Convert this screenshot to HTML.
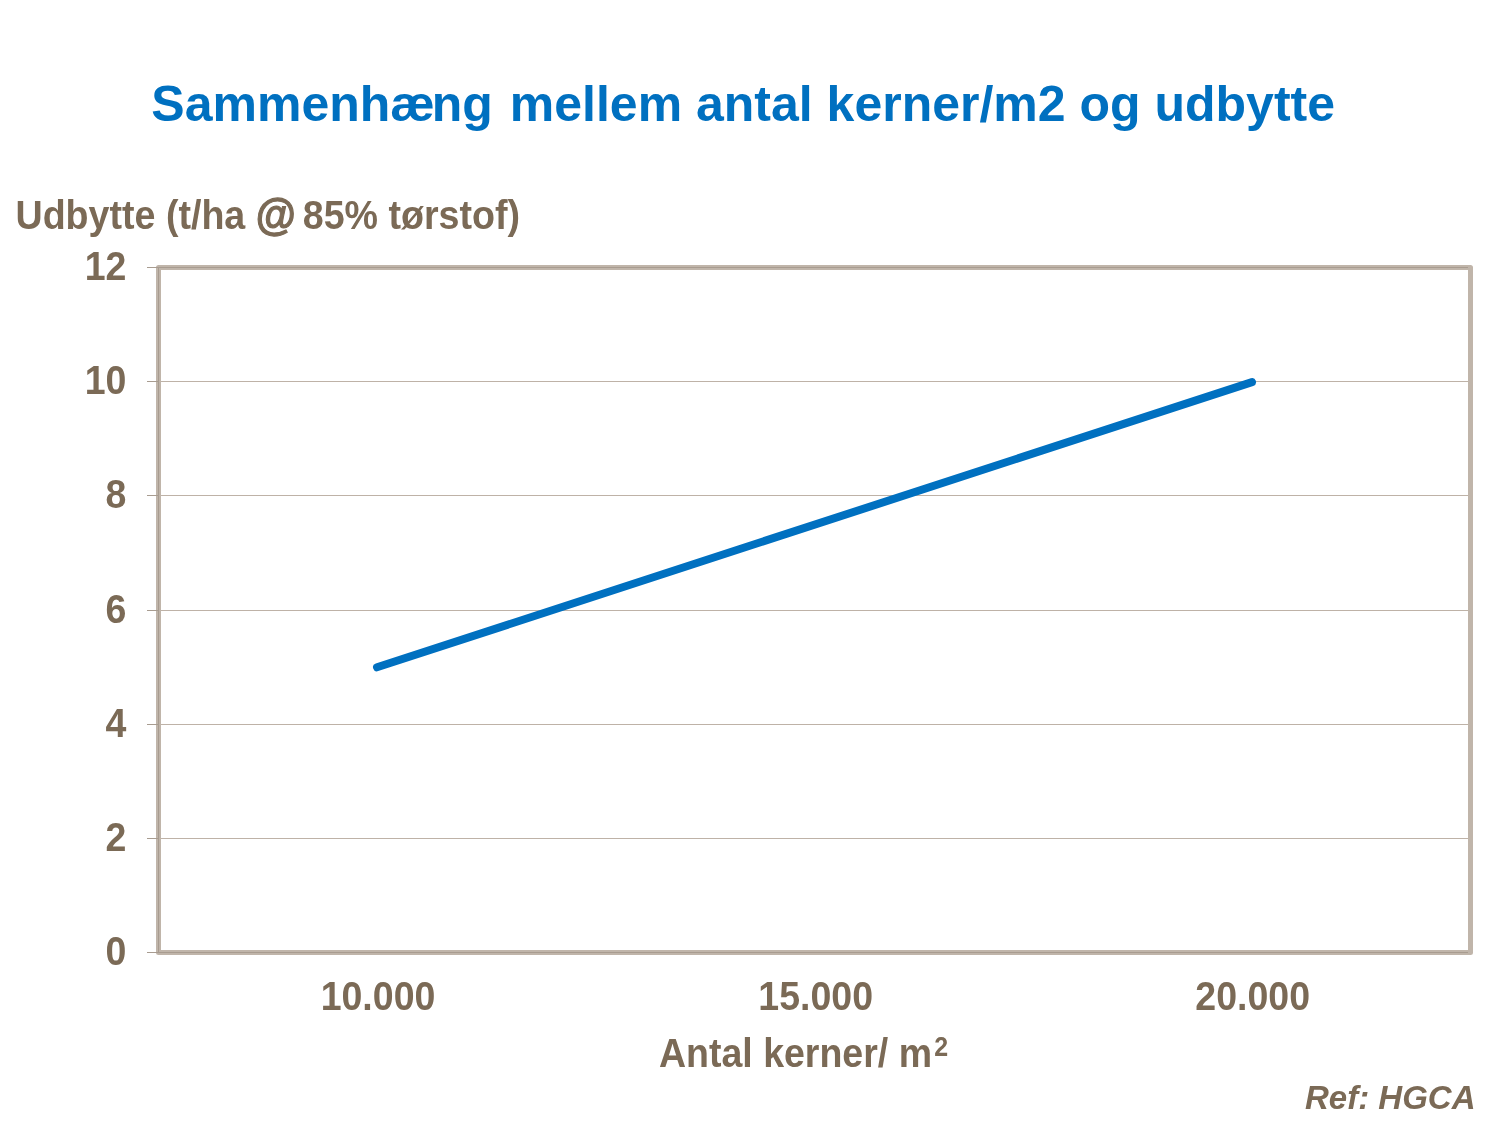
<!DOCTYPE html>
<html lang="da">
<head>
<meta charset="utf-8">
<title>Sammenhæng mellem antal kerner/m2 og udbytte</title>
<style>
html,body{margin:0;padding:0;background:#fff;}
body{width:1500px;height:1126px;overflow:hidden;}
svg{display:block;}
text{font-family:"Liberation Sans",Arial,Helvetica,sans-serif;font-weight:bold;}
.t{fill:#0070c0;font-size:50px;}
.b{fill:#7b6a56;}
</style>
</head>
<body>
<svg width="1500" height="1126" viewBox="0 0 1500 1126">
<rect width="1500" height="1126" fill="#fff"/>
<text id="title" class="t" x="743.2" y="121" text-anchor="middle">Sammenhæ<tspan dx="-3">ng</tspan><tspan dx="3"> mellem antal kerner/m2 og udbytte</tspan></text>
<text transform="translate(15.5 228.6) scale(1 1.07)" id="ylab" class="b" font-size="37.62">Udbytte (t/ha <tspan font-size="41" dy="1.5" stroke="#7b6a56" stroke-width="1.1">@</tspan><tspan dx="-3.4" dy="-1.5"> 85% tørstof)</tspan></text>
<!-- gridlines -->
<g stroke="#beb2a7" stroke-width="1">
<line x1="159" x2="1470" y1="381.5" y2="381.5"/>
<line x1="159" x2="1470" y1="495.5" y2="495.5"/>
<line x1="159" x2="1470" y1="610.5" y2="610.5"/>
<line x1="159" x2="1470" y1="724.5" y2="724.5"/>
<line x1="159" x2="1470" y1="838.5" y2="838.5"/>
</g>
<rect x="158.5" y="267.5" width="1312" height="685" fill="none" stroke="#c0b5aa" stroke-width="5" stroke-linejoin="round"/>
<g stroke="#a89c90" stroke-width="1">
<line x1="158.5" x2="158.5" y1="267" y2="953"/>
<line x1="147" x2="1468" y1="267.5" y2="267.5"/>
<line x1="147" x2="1468" y1="952.5" y2="952.5"/>
<line x1="147" x2="158" y1="381.5" y2="381.5"/>
<line x1="147" x2="158" y1="495.5" y2="495.5"/>
<line x1="147" x2="158" y1="610.5" y2="610.5"/>
<line x1="147" x2="158" y1="724.5" y2="724.5"/>
<line x1="147" x2="158" y1="838.5" y2="838.5"/>
</g>
<line x1="377" y1="667.3" x2="1252" y2="382.1" stroke="#0070c0" stroke-width="8" stroke-linecap="round"/>
<g class="b" font-size="37.5" text-anchor="end">
<text transform="translate(126.4 279.7) scale(1 1.07)" >12</text>
<text transform="translate(126.4 393.7) scale(1 1.07)" >10</text>
<text transform="translate(126.4 507.7) scale(1 1.07)" >8</text>
<text transform="translate(126.4 622.7) scale(1 1.07)" >6</text>
<text transform="translate(126.4 736.7) scale(1 1.07)" >4</text>
<text transform="translate(126.4 850.7) scale(1 1.07)" >2</text>
<text transform="translate(126.4 964.7) scale(1 1.07)" >0</text>
</g>
<g class="b" font-size="37.5" text-anchor="middle">
<text transform="translate(378 1009.8) scale(1 1.07)" >10.000</text>
<text transform="translate(815.7 1009.8) scale(1 1.07)" >15.000</text>
<text transform="translate(1252.7 1009.8) scale(1 1.07)" >20.000</text>
</g>
<text transform="translate(659 1067) scale(1 1.07)" id="xlab" class="b" font-size="37.5">Antal kerner/ m<tspan font-size="25" dx="2.3" dy="-10.3">2</tspan></text>
<text id="ref" class="b" x="1475.5" y="1108.8" font-size="33" font-style="italic" text-anchor="end">Ref: HGCA</text>
</svg>
</body>
</html>
